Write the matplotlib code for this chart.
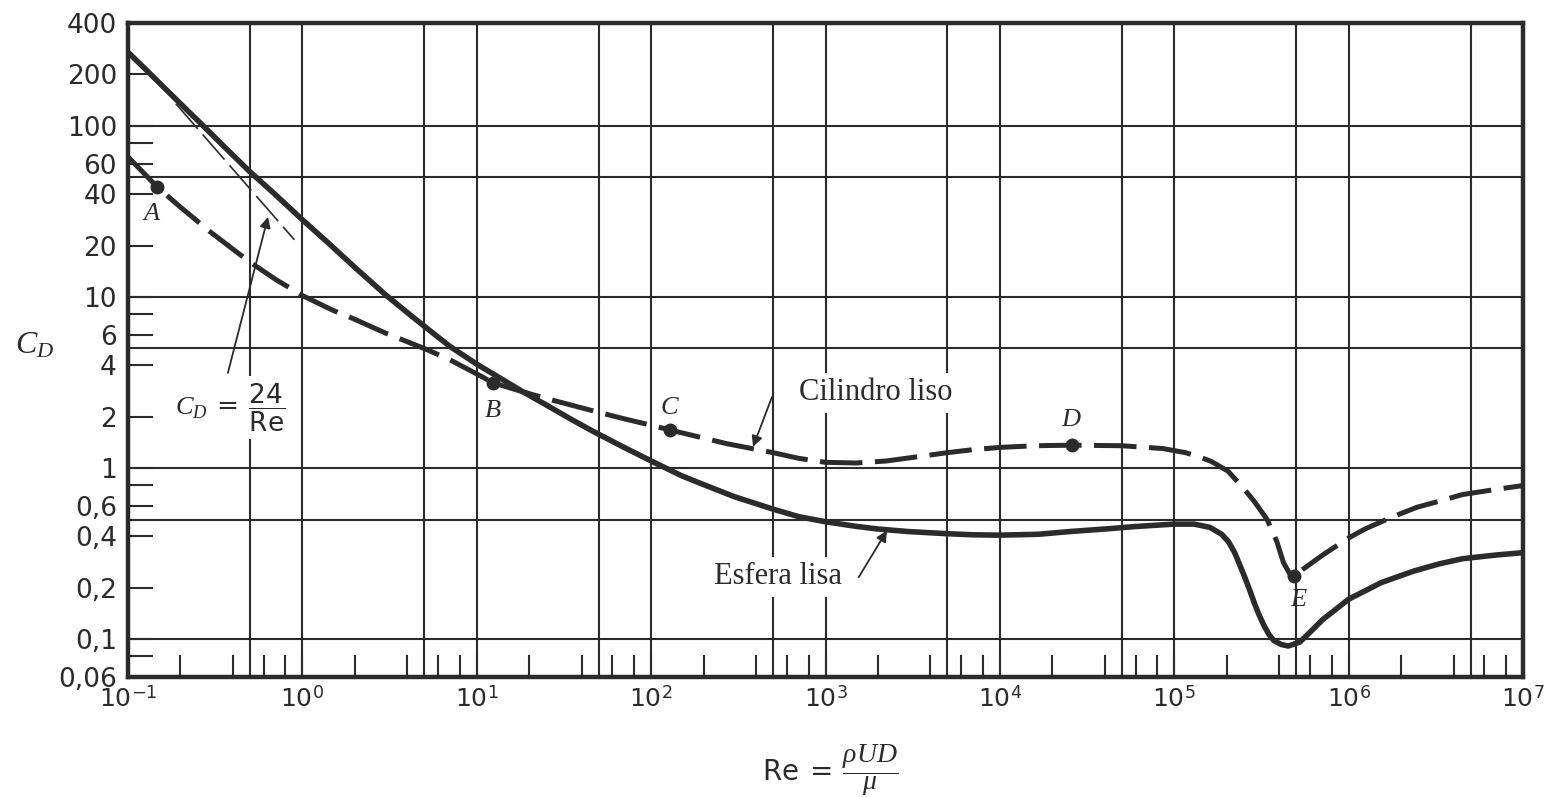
import matplotlib
matplotlib.use('Agg')
import matplotlib.pyplot as plt
from matplotlib.ticker import NullFormatter

plt.rcParams['mathtext.fontset'] = 'custom'
plt.rcParams['mathtext.rm'] = 'DejaVu Sans'
plt.rcParams['mathtext.it'] = 'Liberation Serif:italic'
plt.rcParams['mathtext.bf'] = 'DejaVu Sans:bold'
plt.rcParams['mathtext.sf'] = 'DejaVu Sans'

# values (Re, C_D)
re_sphere = [0.1, 0.13, 0.18, 0.26, 0.35, 0.5, 0.7, 1, 1.43, 2, 3, 4, 5, 7, 10, 14, 18.4,
             25, 35, 48, 70, 100, 150, 200, 300, 500, 700, 1000, 1500, 2000, 3000, 5000,
             7000, 1e4, 1.67e4, 2.5e4, 4e4, 6e4, 1e5, 1.3e5, 1.6e5, 1.87e5, 2.05e5,
             2.22e5, 2.38e5, 2.52e5, 2.7e5, 2.87e5, 3.05e5, 3.27e5, 3.5e5, 3.72e5, 4.1e5,
             4.5e5, 5.25e5, 5.97e5, 7.1e5, 8.5e5, 1e6, 1.54e6, 2.37e6, 3.3e6, 4.5e6, 7e6, 1e7]
cd_sphere = [270, 208, 150, 104, 77, 54, 39.7, 28.3, 20.4, 14.9, 10.3, 8.1, 6.75, 5.15, 4.05,
             3.3, 2.79, 2.34, 1.92, 1.61, 1.32, 1.10, 0.90, 0.80, 0.68, 0.575, 0.52, 0.485,
             0.456, 0.44, 0.425, 0.413, 0.407, 0.405, 0.41, 0.425, 0.44, 0.455, 0.47, 0.47,
             0.45, 0.41, 0.37, 0.32, 0.27, 0.234, 0.195, 0.164, 0.14, 0.12, 0.106, 0.098,
             0.093, 0.091, 0.096, 0.109, 0.13, 0.15, 0.171, 0.214, 0.25, 0.275, 0.295, 0.31,
             0.32]

re_cyl = [0.1, 0.147, 0.2, 0.3, 0.5, 0.7, 1, 1.5, 2, 3, 5, 7, 10, 12.4, 18.4, 25, 35, 48,
          70, 100, 128, 270, 500, 700, 1000, 1500, 2240, 3500, 5000, 7000, 1e4, 1.6e4,
          2.58e4, 5e4, 8.6e4, 1.16e5, 1.4e5, 1.64e5, 2.03e5, 2.42e5, 2.87e5, 3.41e5,
          3.88e5, 4.23e5, 4.6e5, 4.85e5, 5.3e5, 7.1e5, 1e6, 1.24e6, 1.8e6, 2.47e6,
          3.5e6, 4.5e6, 7e6, 1e7]
cd_cyl = [66, 44, 33.5, 23.8, 16.0, 12.7, 10.2, 8.35, 7.4, 6.15, 5.0, 4.3, 3.55, 3.15, 2.79,
          2.55, 2.33, 2.14, 1.94, 1.78, 1.67, 1.39, 1.23, 1.14, 1.08, 1.07, 1.10, 1.17, 1.23,
          1.28, 1.32, 1.35, 1.36, 1.35, 1.30, 1.23, 1.16, 1.09, 0.96, 0.79, 0.64, 0.50,
          0.37, 0.28, 0.24, 0.234, 0.25, 0.31, 0.39, 0.44, 0.52, 0.59,
          0.65, 0.70, 0.75, 0.79]

re_stokes = [0.188, 0.9]
cd_stokes = [135, 21.6]

point_names = ['A', 'B', 'C', 'D', 'E']
re_points = [0.147, 12.4, 128, 2.58e4, 4.85e5]
cd_points = [44, 3.15, 1.67, 1.36, 0.234]

yticks = [0.06, 0.1, 0.2, 0.4, 0.6, 1, 2, 4, 6, 10, 20, 40, 60, 100, 200, 400]
ytick_labels = ['0,06', '0,1', '0,2', '0,4', '0,6', '1', '2', '4', '6',
                '10', '20', '40', '60', '100', '200', '400']
yminor = [0.08, 0.8, 8, 80]
ygrid = [0.1, 0.5, 1, 5, 10, 50, 100]

exps = list(range(-1, 8))
xticks = [10.0 ** e for e in exps]
xtick_labels = [r'$10^{%d}$' % e for e in exps]
xminor = [m * 10.0 ** e for e in range(-1, 7) for m in (2, 4, 6, 8)]
xgrid = [m * 10.0 ** e for e in range(-1, 7) for m in (1, 5)][1:]

ink = '#2b2b2b'

fig = plt.figure(figsize=(15.55, 7.97), dpi=100)
ax = fig.add_axes([128 / 1555, 1 - 677 / 797, 1395 / 1555, 654 / 797])
ax.set_xscale('log')
ax.set_yscale('log')
ax.set_xlim(0.1, 1e7)
ax.set_ylim(0.06, 400)

for v in xgrid:
    ax.axvline(v, color=ink, lw=1.5, zorder=1)
for v in ygrid:
    ax.axhline(v, color=ink, lw=1.5, zorder=1)

# curves
ax.plot(re_sphere, cd_sphere, color=ink, lw=4, solid_joinstyle='round', zorder=4)
ax.plot(re_cyl, cd_cyl, color=ink, lw=3.6, dashes=(8.5, 2.5), zorder=4)
ax.plot(re_stokes, cd_stokes, color=ink, lw=1.2, dashes=(20, 4.5), zorder=4)
ax.plot(re_points, cd_points, 'o', color=ink, ms=9, zorder=5)

label_pos = [(0.137, 31), (12.4, 2.19), (128, 2.28), (2.59e4, 1.94), (5.17e5, 0.171)]
for name, (lx, ly) in zip(point_names, label_pos):
    ax.text(lx, ly, '$%s$' % name, fontsize=19, color=ink, ha='center', va='center', zorder=6)

box = dict(facecolor='white', edgecolor='none', pad=4)
ax.text(1945, 2.76, 'Cilindro liso', family='Liberation Serif', fontsize=22, color=ink,
        ha='center', va='center', bbox=box, zorder=2)
ax.text(533, 0.231, 'Esfera lisa', family='Liberation Serif', fontsize=22, color=ink,
        ha='center', va='center', bbox=box, zorder=2)
ax.text(0.385, 2.25, r'$C_D\ =\ \dfrac{24}{\mathrm{Re}}$', fontsize=19, color=ink,
        ha='center', va='center', bbox=box, zorder=2)

arrow = dict(arrowstyle='-|>', color=ink, lw=1.3, mutation_scale=16, shrinkA=0, shrinkB=0)
ax.annotate('', xy=(0.635, 29.4), xytext=(0.374, 3.6), arrowprops=arrow, zorder=6)
ax.annotate('', xy=(384, 1.33), xytext=(493, 2.6), arrowprops=arrow, zorder=6)
ax.annotate('', xy=(2250, 0.43), xytext=(1550, 0.23), arrowprops=arrow, zorder=6)

# ticks
ax.set_yticks(yticks)
ax.set_yticklabels(ytick_labels)
ax.set_yticks(yminor, minor=True)
ax.yaxis.set_minor_formatter(NullFormatter())
ax.set_xticks(xticks)
ax.set_xticklabels(xtick_labels)
ax.set_xticks(xminor, minor=True)
ax.xaxis.set_minor_formatter(NullFormatter())

ax.tick_params(axis='y', which='both', direction='in', length=18, width=1.5, color=ink,
               labelsize=19, labelcolor=ink, pad=8, left=True, right=False)
ax.tick_params(axis='x', which='both', direction='in', length=16, width=1.5, color=ink,
               labelsize=18, labelcolor=ink, pad=6, bottom=True, top=False)
for s in ax.spines.values():
    s.set_linewidth(3.2)
    s.set_color(ink)
    s.set_zorder(7)

fig.text(35 / 1555, 1 - 345 / 797, r'$C_D$', fontsize=23, color=ink, ha='center', va='center')
fig.text(830 / 1555, 1 - 770 / 797, r'$\mathrm{Re}\ =\ \dfrac{\rho UD}{\mu}$', fontsize=20,
         color=ink, ha='center', va='center')

fig.savefig('out.png', dpi=100, facecolor='white')
